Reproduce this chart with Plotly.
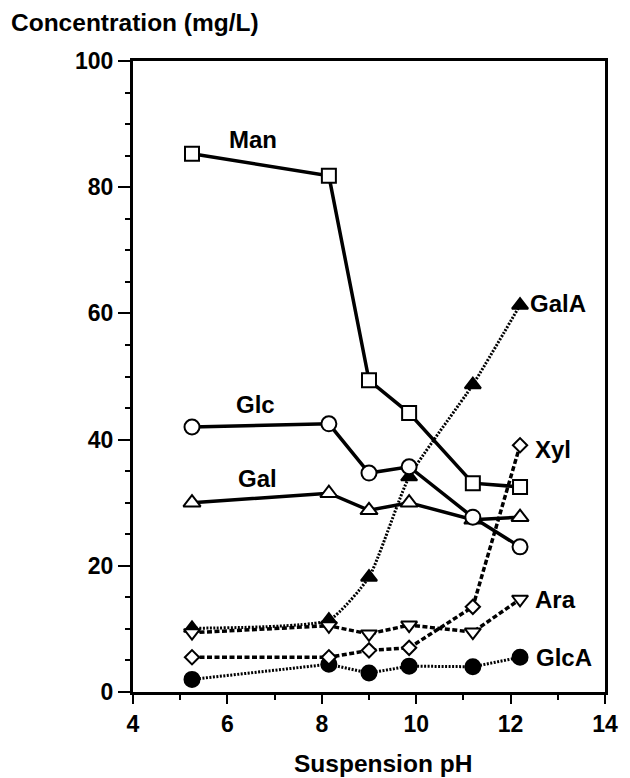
import plotly.graph_objects as go

ph = [5.25, 8.15, 9.0, 9.85, 11.2, 12.2]

man = [85.3, 81.8, 49.4, 44.2, 33.1, 32.5]
glc = [42.0, 42.5, 34.7, 35.7, 27.7, 23.0]
gal = [30.0, 31.5, 28.8, 30.0, 27.3, 27.7]
gala = [10.1, 11.4, 18.2, 34.1, 48.7, 61.3]
xyl = [5.5, 5.5, 6.6, 7.0, 13.5, 39.1]
ara = [9.4, 10.5, 9.2, 10.6, 9.5, 14.7]
glca = [2.0, 4.4, 3.0, 4.1, 4.0, 5.5]

labels = ["Man", "Glc", "Gal", "GalA", "Xyl", "Ara", "GlcA"]

FONT = "Liberation Sans, Arial, Helvetica, sans-serif"

fig = go.Figure()

def add(y, dash, symbol, size, filled, shape="linear", smoothing=None, lw=3.5):
    line = dict(color="black", width=lw, dash=dash, shape=shape)
    if smoothing is not None:
        line["smoothing"] = smoothing
    fig.add_trace(go.Scatter(
        x=ph, y=y, mode="lines+markers", line=line,
        marker=dict(symbol=symbol, size=size,
                    color="black" if filled else "white",
                    line=dict(color="black", width=2)),
        cliponaxis=False, showlegend=False))

add(glca, "2px,1.5px", "circle", 15, True, lw=3)
add(gala, "2px,1.5px", "triangle-up", 14, True, shape="spline", smoothing=0.5, lw=3)
add(xyl, "5px,2.5px", "diamond", 11, False)
add(ara, "5px,2.5px", "triangle-down", 14, False)
add(gal, "solid", "triangle-up", 15, False)
add(glc, "solid", "circle", 15, False)
add(man, "solid", "square", 14, False)

# series labels
lab_pos = [
    (6.55, 87.5, "center"),   # Man
    (6.59, 45.6, "center"),   # Glc
    (6.63, 33.9, "center"),   # Gal
    (12.36, 61.5, "left"),    # GalA
    (12.47, 38.4, "left"),    # Xyl
    (12.47, 14.6, "left"),    # Ara
    (12.49, 5.4, "left"),     # GlcA
]
for name, (lx, ly, anc) in zip(labels, lab_pos):
    fig.add_annotation(x=lx, y=ly, text=name, showarrow=False,
                       xanchor=anc, yanchor="middle",
                       font=dict(family=FONT, size=24, color="black", weight="bold"))

# axis titles
fig.add_annotation(xref="paper", yref="paper", x=(6 - 133) / 483, y=(692 - 23) / 631,
                   text="Concentration (mg/L)", showarrow=False,
                   xanchor="left", yanchor="middle",
                   font=dict(family=FONT, size=24.5, color="black", weight="bold"))
fig.add_annotation(xref="paper", yref="paper", x=(389 - 133) / 483, y=(692 - 763) / 631,
                   text="Suspension pH", showarrow=False,
                   xanchor="center", yanchor="middle",
                   font=dict(family=FONT, size=24.5, color="black", weight="bold"))

fig.update_xaxes(range=[4, 14], tickvals=[4, 6, 8, 10, 12, 14],
                 ticks="outside", ticklen=9, tickwidth=2, tickcolor="black",
                 minor=dict(tickvals=[5, 7, 9, 11, 13], ticks="outside", ticklen=5,
                            tickwidth=2, tickcolor="black"),
                 showline=True, linewidth=3, linecolor="black", mirror=True,
                 showgrid=False, zeroline=False,
                 tickfont=dict(family=FONT, size=23, color="black", weight="bold"))
fig.update_yaxes(range=[0, 100], tickvals=[0, 20, 40, 60, 80, 100],
                 ticks="outside", ticklen=12, tickwidth=2, tickcolor="black",
                 minor=dict(dtick=5, ticks="outside", ticklen=5, tickwidth=2,
                            tickcolor="black"),
                 showline=True, linewidth=3, linecolor="black", mirror=True,
                 showgrid=False, zeroline=False,
                 tickfont=dict(family=FONT, size=23, color="black", weight="bold"))

fig.update_layout(width=630, height=778,
                  margin=dict(l=133, r=14, t=61, b=86),
                  paper_bgcolor="white", plot_bgcolor="white")

fig.write_html("out.html")
